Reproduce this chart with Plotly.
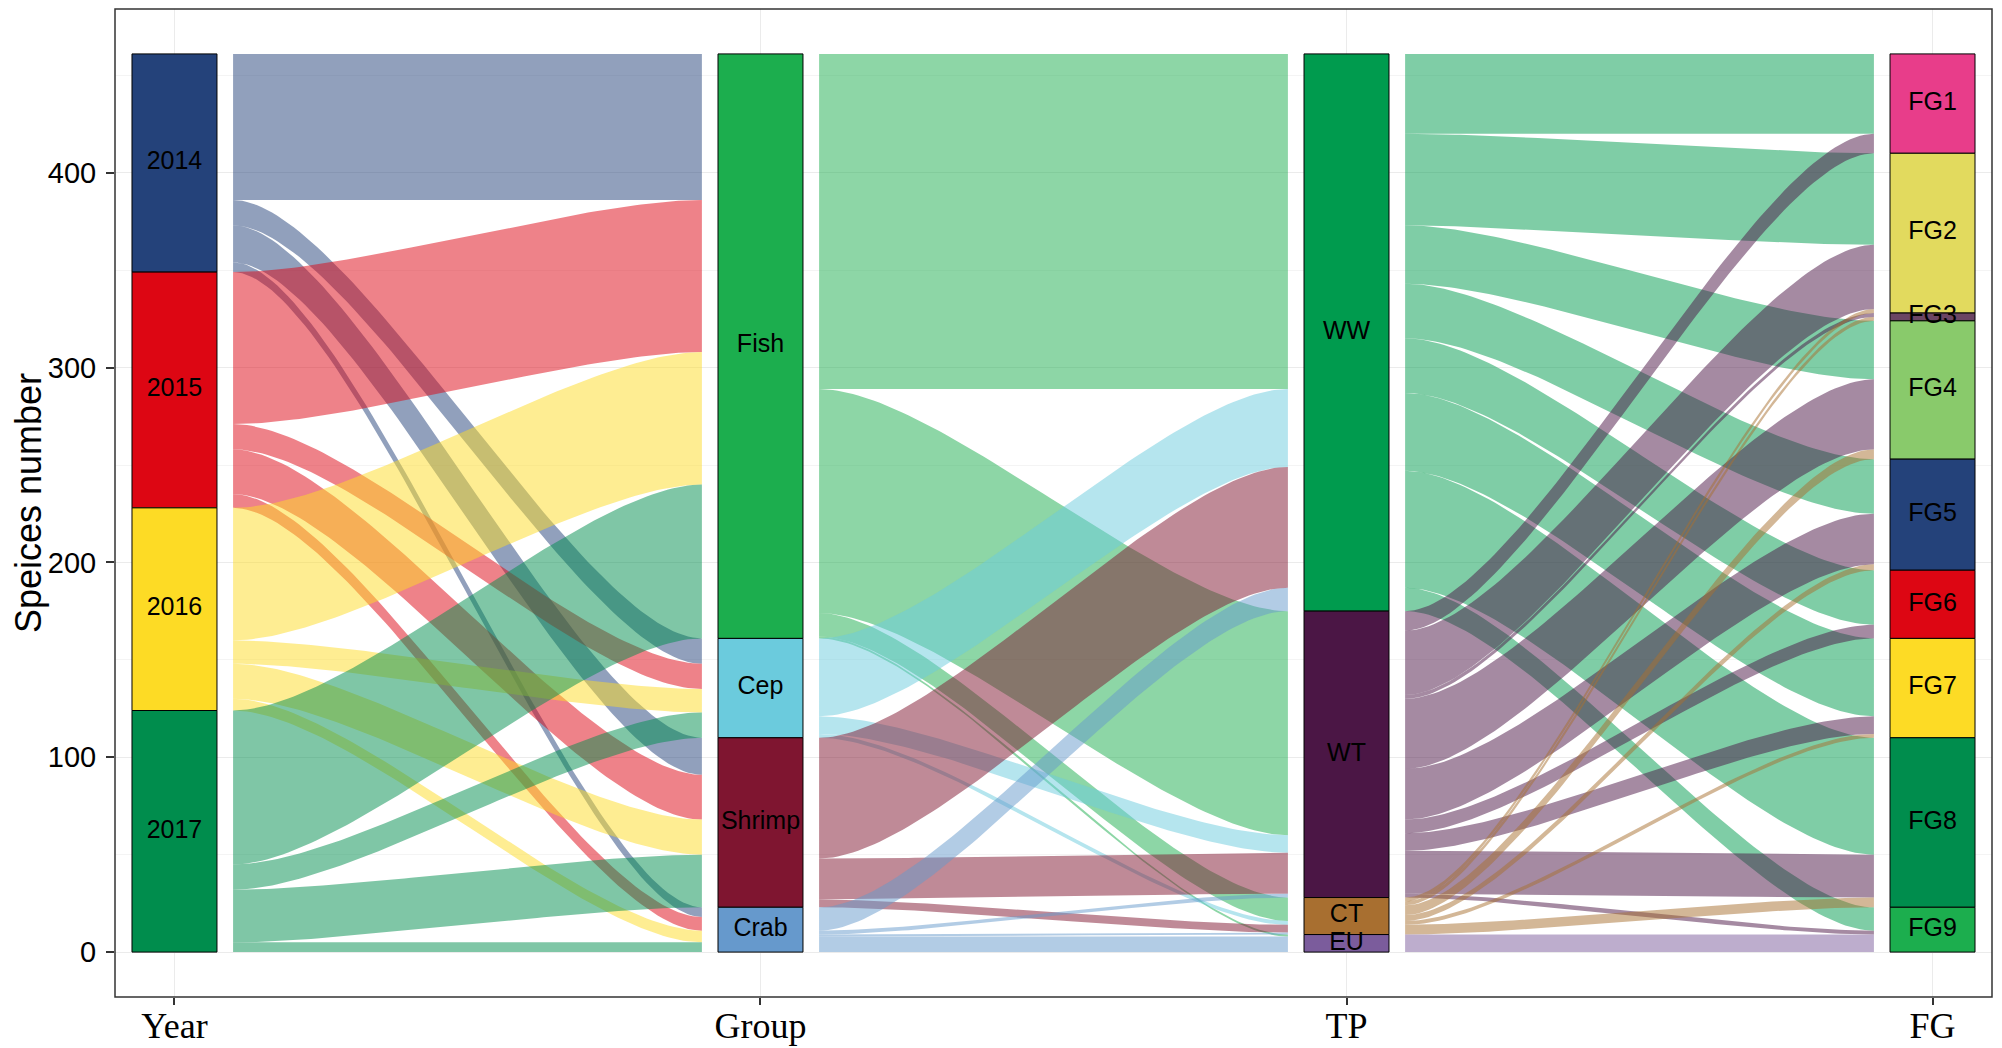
import numpy as np
import plotly.graph_objects as go

# axes of the alluvial plot (left to right) and their strata, top to bottom
axis_names = ["Year", "Group", "TP", "FG"]
years = ["2014", "2015", "2016", "2017"]
groups = ["Fish", "Cep", "Shrimp", "Crab"]
tps = ["WW", "WT", "CT", "EU"]
fgs = ["FG1", "FG2", "FG3", "FG4", "FG5", "FG6", "FG7", "FG8", "FG9"]

# species counts flowing between neighbouring axes (rows = left strata, cols = right strata)
year_group = [
    [75, 13, 19, 5],
    [78, 13, 23, 7],
    [68, 12, 18, 6],
    [79, 13, 27, 5],
]
group_tp = [
    [172, 115, 12, 1],
    [40, 9, 2, 0],
    [62, 21, 4, 0],
    [12, 2, 1, 8],
]
tp_fg = [
    [41, 47, 0, 30, 28, 28, 40, 60, 12],
    [10, 33, 2, 36, 26, 7, 9, 22, 2],
    [0, 2, 2, 5, 3, 0, 2, 5, 0],
    [0, 0, 0, 0, 0, 0, 0, 0, 9],
]

year_colors = ["#24427A", "#DD0613", "#FDDB25", "#008D4D"]
group_colors = ["#1CAE4E", "#6BCBDD", "#7F1530", "#6699CC"]
tp_colors = ["#009B4E", "#4B1645", "#A86F30", "#7B5C9C"]
fg_colors = ["#E83D8A", "#E2DA5E", "#6B4563", "#89CA6B", "#24427A",
             "#DD0613", "#FDDB25", "#008D4D", "#1CAE4E"]

levels = [years, groups, tps, fgs]
colors = [year_colors, group_colors, tp_colors, fg_colors]
segments = [year_group, group_tp, tp_fg]

STRAT_W = 0.145   # width of stratum boxes (axis units)
FLOW_OFF = 0.1    # flows start/end this far from the axis centre
ALPHA = 0.5


def rgba(hex_col, a):
    h = hex_col.lstrip("#")
    r, g, b = int(h[0:2], 16), int(h[2:4], 16), int(h[4:6], 16)
    return f"rgba({r},{g},{b},{a})"


def stack_tops(sizes):
    total = sum(sizes)
    tops, acc = [], total
    for s in sizes:
        tops.append(acc)
        acc -= s
    return tops


def curve(xa, xb, ya, yb, n=80, k=0.25):
    t = np.linspace(0, 1, n)
    w = xb - xa
    x = (1 - t) ** 3 * xa + 3 * (1 - t) ** 2 * t * (xa + k * w) \
        + 3 * (1 - t) * t ** 2 * (xb - k * w) + t ** 3 * xb
    y = (1 - t) ** 3 * ya + 3 * (1 - t) ** 2 * t * ya \
        + 3 * (1 - t) * t ** 2 * yb + t ** 3 * yb
    return x, y


# stratum sizes for each axis
sizes = [[sum(r) for r in segments[0]]]
for seg in segments:
    sizes.append([sum(seg[i][j] for i in range(len(seg))) for j in range(len(seg[0]))])

fig = go.Figure()

# flows, coloured by the left-hand stratum
for s, seg in enumerate(segments):
    xl, xr = s + 1 + FLOW_OFF, s + 2 - FLOW_OFF
    ltops = stack_tops(sizes[s])
    rtops = stack_tops(sizes[s + 1])
    nl, nr = len(seg), len(seg[0])
    for i in range(nl):
        for j in range(nr):
            v = seg[i][j]
            if v <= 0:
                continue
            lt = ltops[i] - sum(seg[i][:j])
            rt = rtops[j] - sum(seg[k][j] for k in range(i))
            xt, yt = curve(xl, xr, lt, rt)
            xb, yb = curve(xr, xl, rt - v, lt - v)
            fig.add_trace(go.Scatter(
                x=np.concatenate([xt, xb]), y=np.concatenate([yt, yb]),
                mode="lines", fill="toself", line=dict(width=0),
                fillcolor=rgba(colors[s][i], ALPHA), hoverinfo="skip"))

# strata boxes and labels
for a in range(4):
    tops = stack_tops(sizes[a])
    bottoms = [t - v for t, v in zip(tops, sizes[a])]
    mids = [(t + b) / 2 for t, b in zip(tops, bottoms)]
    fig.add_trace(go.Bar(
        x=[a + 1] * len(sizes[a]), y=sizes[a], base=bottoms, width=STRAT_W,
        marker=dict(color=colors[a], line=dict(color="black", width=1)),
        hoverinfo="skip"))
    fig.add_trace(go.Scatter(
        x=[a + 1] * len(sizes[a]), y=mids, text=levels[a], mode="text",
        textfont=dict(family="Liberation Sans", size=25, color="black"),
        hoverinfo="skip"))

# panel border
fig.add_shape(type="rect", xref="paper", yref="paper", x0=0, x1=1, y0=0, y1=1,
              line=dict(color="#333", width=1.5), layer="above")

# page body adds 8px offset, margins compensate for it
fig.update_layout(
    width=2002, height=1048,
    margin=dict(l=107, r=18, t=1, b=59),
    plot_bgcolor="white", paper_bgcolor="white",
    barmode="overlay", showlegend=False,
    xaxis=dict(range=[0.8985, 4.1015], tickvals=[1, 2, 3, 4], ticktext=axis_names,
               ticks="outside", ticklen=7, tickwidth=1.5, tickcolor="#333",
               showline=False, showgrid=True, gridcolor="#EBEBEB", zeroline=False,
               automargin=False, ticklabelstandoff=-10,
               tickfont=dict(family="Liberation Serif", size=36, color="black")),
    yaxis=dict(range=[-23.05, 484.05], tickvals=[0, 100, 200, 300, 400],
               ticks="outside", ticklen=8, tickwidth=1.5, tickcolor="#333",
               showline=False, showgrid=True, gridcolor="#EBEBEB", zeroline=False,
               automargin=False, ticklabelstandoff=4,
               minor=dict(tickvals=[50, 150, 250, 350, 450], showgrid=True,
                          gridcolor="#F4F4F4"),
               tickfont=dict(family="Liberation Sans", size=29, color="black"),
               title=dict(text="Speices number", standoff=8,
                          font=dict(family="Liberation Sans", size=36, color="black"))),
)

fig.write_html("out.html")
